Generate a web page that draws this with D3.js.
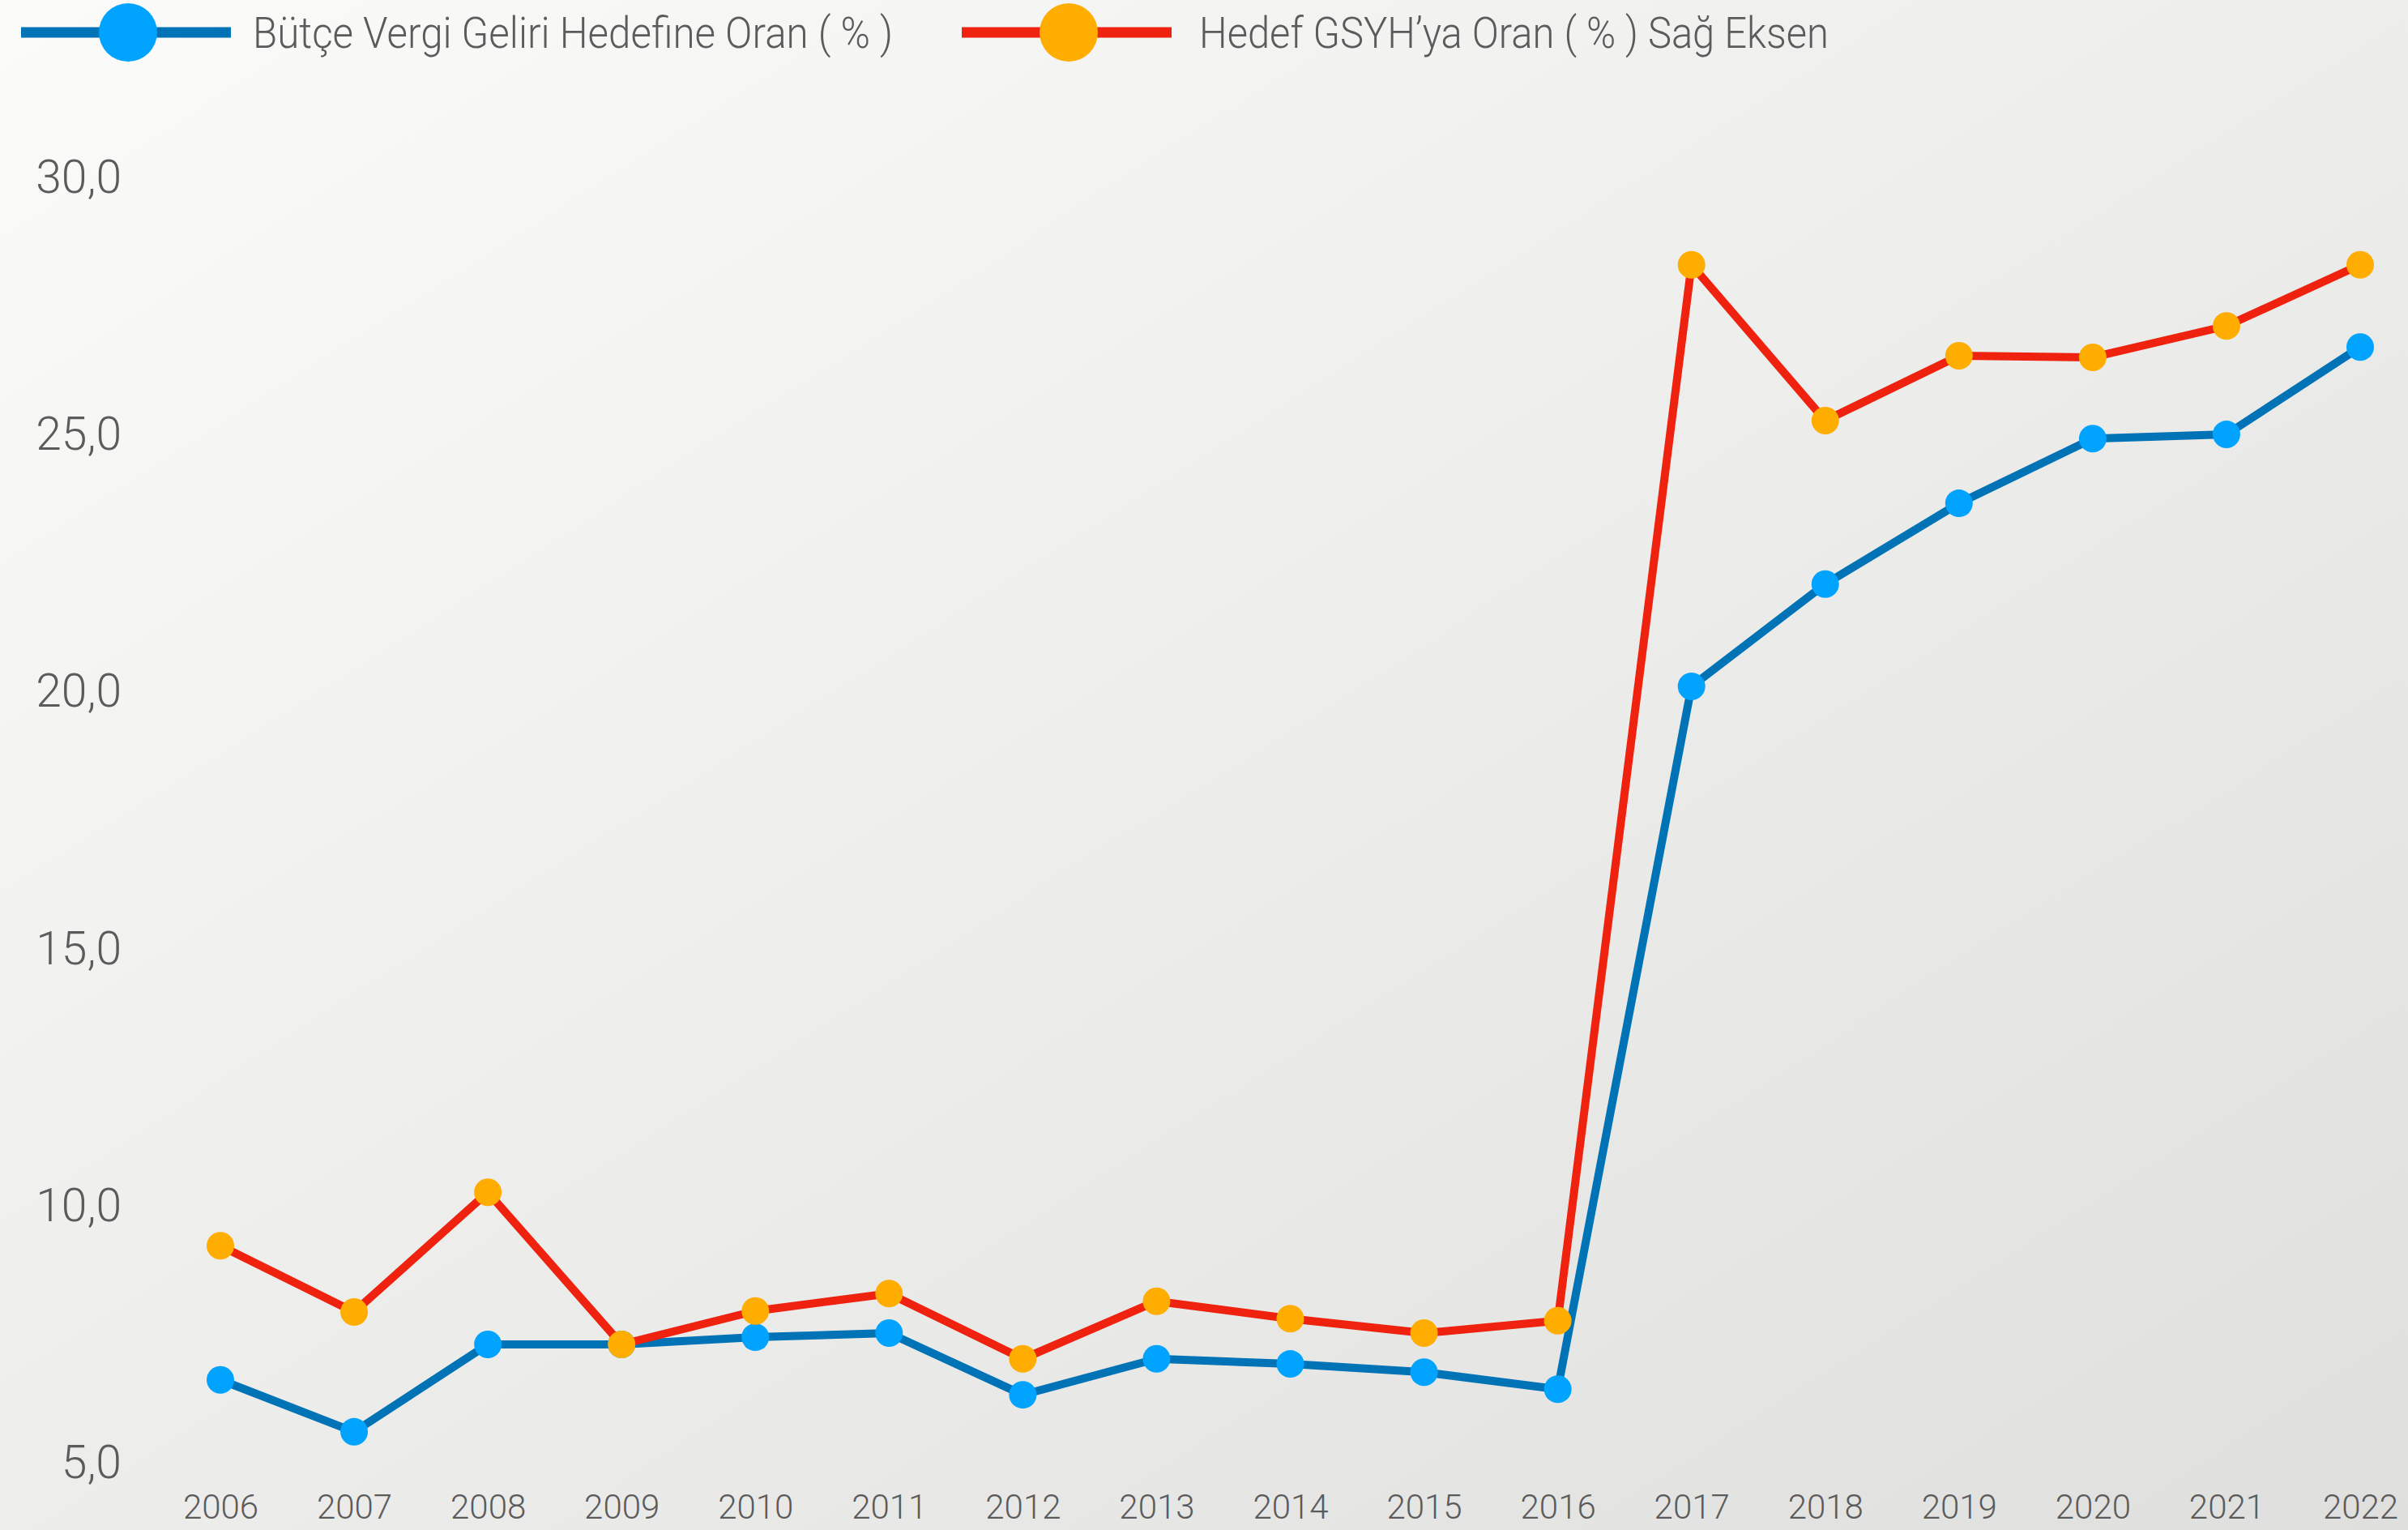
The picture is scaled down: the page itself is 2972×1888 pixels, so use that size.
<!DOCTYPE html>
<html>
<head>
<meta charset="utf-8">
<script src="https://cdn.jsdelivr.net/npm/d3@7"></script>
<style>
  html, body { margin: 0; padding: 0; overflow: hidden; }
  svg { display: block; }
</style>
</head>
<body>
<script>
const years = ["2006","2007","2008","2009","2010","2011","2012","2013","2014","2015","2016","2017","2018","2019","2020","2021","2022"];
const butceOran = [6.58, 5.57, 7.27, 7.27, 7.41, 7.49, 6.29, 6.99, 6.89, 6.73, 6.40, 20.07, 22.06, 23.63, 24.89, 24.97, 26.67];
const gsyhOran = [9.19, 7.90, 10.23, 7.27, 7.92, 8.26, 6.99, 8.11, 7.77, 7.49, 7.73, 28.27, 25.24, 26.50, 26.47, 27.08, 28.27];
const yTicks = [5, 10, 15, 20, 25, 30];
const seriesNames = ["Bütçe Vergi Geliri Hedefine Oran ( % )", "Hedef GSYH’ya Oran ( % ) Sağ Eksen"];

const W = 2972, H = 1888;
const svg = d3.select("body").append("svg").attr("width", W).attr("height", H);

const defs = svg.append("defs");
const grad = defs.append("linearGradient").attr("id", "bg")
  .attr("x1", "0%").attr("y1", "0%").attr("x2", "100%").attr("y2", "100%");
grad.append("stop").attr("offset", "0%").attr("stop-color", "#fbfbfa");
grad.append("stop").attr("offset", "100%").attr("stop-color", "#dfdfde");
svg.append("rect").attr("width", W).attr("height", H).attr("fill", "url(#bg)");

const x = d3.scalePoint().domain(years).range([272, 2913]);
const y = d3.scaleLinear().domain([5, 30]).range([1803, 217]);

const textColor = "#5b5b5b";
const font = "Roboto, 'Noto Sans', sans-serif";

// Y axis labels
const fmt = v => d3.format(".1f")(v).replace(".", ",");
const yAxis = d3.axisLeft(y).tickValues(yTicks).tickFormat(fmt).tickSize(0).tickPadding(0);
const yg = svg.append("g").attr("transform", "translate(150,0)").call(yAxis);
yg.select(".domain").remove();
yg.selectAll("text").attr("fill", textColor).attr("font-family", font)
  .attr("font-size", 57).attr("font-weight", 300).attr("dy", "0.36em").attr("text-anchor", "end");

// X axis labels
const xAxis = d3.axisBottom(x).tickSize(0).tickPadding(0);
const xg = svg.append("g").attr("transform", "translate(0,1844)").call(xAxis);
xg.select(".domain").remove();
xg.selectAll("text").attr("fill", textColor).attr("font-family", font)
  .attr("font-size", 42).attr("font-weight", 300).attr("dy", "0.71em");

const series = [
  { name: seriesNames[0], values: butceOran, line: "#0073b6", dot: "#00a3fe" },
  { name: seriesNames[1], values: gsyhOran, line: "#ee220e", dot: "#ffad00" }
];

const lineGen = d3.line().x((d, i) => x(years[i])).y(d => y(d));

series.forEach(s => {
  const g = svg.append("g");
  g.append("path").datum(s.values).attr("d", lineGen)
    .attr("fill", "none").attr("stroke", s.line).attr("stroke-width", 10)
    .attr("stroke-linejoin", "round");
  g.selectAll("circle").data(s.values).join("circle")
    .attr("cx", (d, i) => x(years[i])).attr("cy", d => y(d))
    .attr("r", 17).attr("fill", s.dot);
});

// Legend
const legendItems = [
  { s: series[0], x0: 26, x1: 285, cx: 158, tx: 312, tl: 790 },
  { s: series[1], x0: 1187, x1: 1446, cx: 1319, tx: 1480, tl: 777 }
];
const lg = svg.append("g");
legendItems.forEach(it => {
  lg.append("line").attr("x1", it.x0).attr("x2", it.x1).attr("y1", 40).attr("y2", 40)
    .attr("stroke", it.s.line).attr("stroke-width", 13);
  lg.append("circle").attr("cx", it.cx).attr("cy", 40).attr("r", 36).attr("fill", it.s.dot);
  lg.append("text").attr("x", it.tx).attr("y", 59).text(it.s.name)
    .attr("fill", textColor).attr("font-family", font).attr("font-size", 54)
    .attr("font-weight", 300)
    .attr("textLength", it.tl).attr("lengthAdjust", "spacingAndGlyphs");
});
</script>
</body>
</html>
